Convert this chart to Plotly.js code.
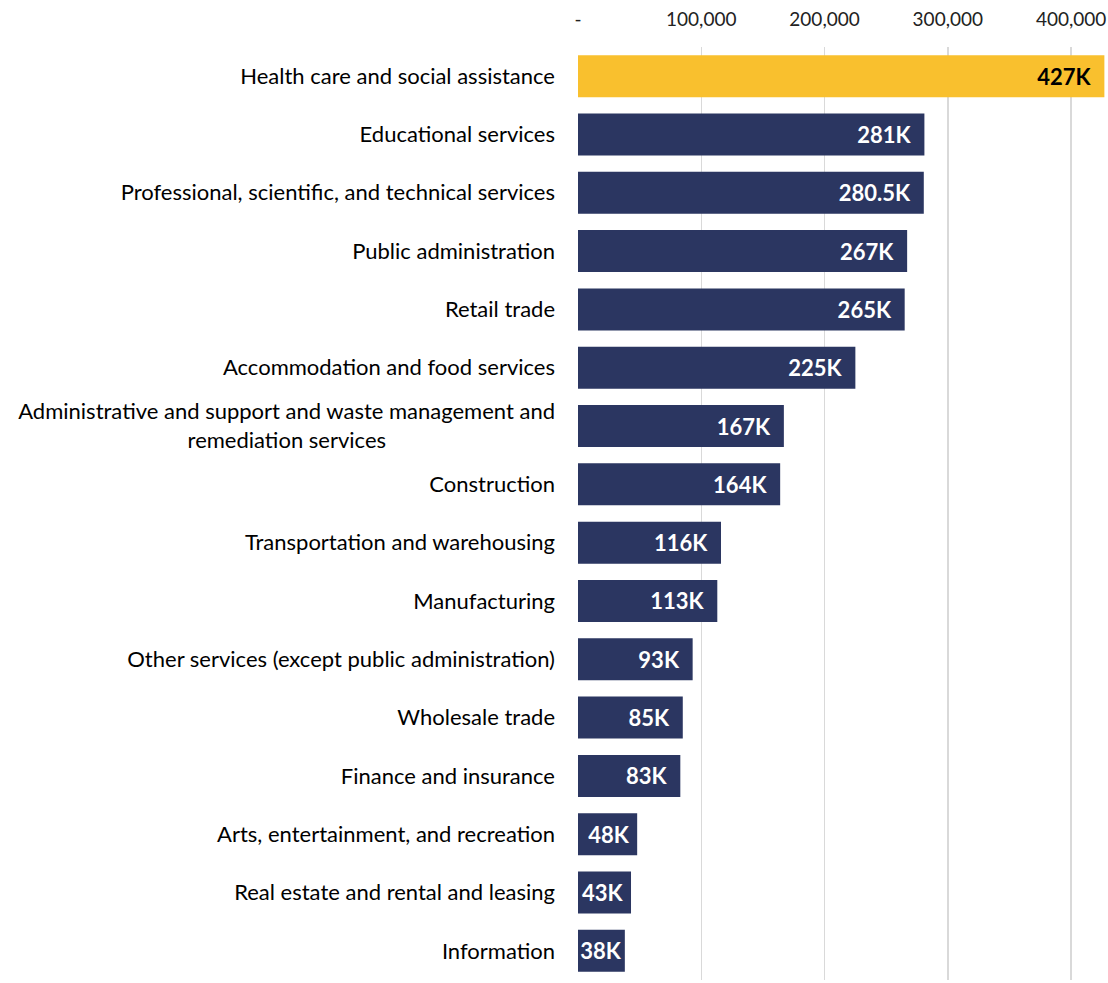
<!DOCTYPE html>
<html>
<head>
<meta charset="utf-8">
<script src="https://cdn.plot.ly/plotly-3.0.1.min.js"></script>
<style>html,body{margin:0;padding:0;background:#fff;}#chart{width:1108px;height:983px;}</style>
</head>
<body>
<div id="chart"></div>
<script>
const categories = [
  "Health care and social assistance",
  "Educational services",
  "Professional, scientific, and technical services",
  "Public administration",
  "Retail trade",
  "Accommodation and food services",
  "Administrative and support and waste management and<br>remediation services" + "\u00a0".repeat(30),
  "Construction",
  "Transportation and warehousing",
  "Manufacturing",
  "Other services (except public administration)",
  "Wholesale trade",
  "Finance and insurance",
  "Arts, entertainment, and recreation",
  "Real estate and rental and leasing",
  "Information"
];
const values = [427000, 281000, 280500, 267000, 265000, 225000, 167000, 164000, 116000, 113000, 93000, 85000, 83000, 48000, 43000, 38000];
const valueLabels = ["427K","281K","280.5K","267K","265K","225K","167K","164K","116K","113K","93K","85K","83K","48K","43K","38K"];
const xTickVals = [0, 100000, 200000, 300000, 400000];
const xTickText = ["-", "100,000", "200,000", "300,000", "400,000"];

const colors = values.map((v, i) => i === 0 ? "#F9C02E" : "#2B3661");
const textColors = values.map((v, i) => i === 0 ? "#000000" : "#FFFFFF");
// right padding inside the bar end: narrower for short bars so the label fits
const templates = values.map(v => "%{text}" + (v > 60000 ? "\u00a0\u00a0" : (v > 40000 ? "\u00a0" : "")));

const FONT = "Lato, 'Open Sans', sans-serif";

Plotly.newPlot("chart", [{
  type: "bar",
  orientation: "h",
  y: categories,
  x: values,
  text: valueLabels,
  texttemplate: templates,
  textposition: "inside",
  insidetextanchor: "end",
  constraintext: "none",
  textangle: 0,
  cliponaxis: false,
  textfont: {family: FONT, size: 22, color: textColors, weight: "bold"},
  marker: {color: colors},
  hoverinfo: "none"
}], {
  width: 1108, height: 983,
  margin: {l: 578, r: 3, t: 47, b: 3},
  paper_bgcolor: "#fff", plot_bgcolor: "#fff",
  bargap: 0.28,
  showlegend: false,
  font: {family: FONT, size: 20, color: "#000"},
  xaxis: {
    side: "top",
    range: [0, 427500],
    tickvals: xTickVals,
    ticktext: xTickText,
    showgrid: true, gridcolor: "#D9D9D9", gridwidth: 1.5,
    zeroline: false, showline: false,
    ticks: "", ticklabelstandoff: 16,
    tickfont: {family: FONT, size: 19, color: "#222"},
    fixedrange: true
  },
  yaxis: {
    autorange: "reversed",
    type: "category",
    showgrid: false, zeroline: false, showline: false,
    ticks: "", ticklabelstandoff: 22,
    tickfont: {family: FONT, size: 22, color: "#000"},
    fixedrange: true
  }
}, {displayModeBar: false, staticPlot: true});
</script>
</body>
</html>
